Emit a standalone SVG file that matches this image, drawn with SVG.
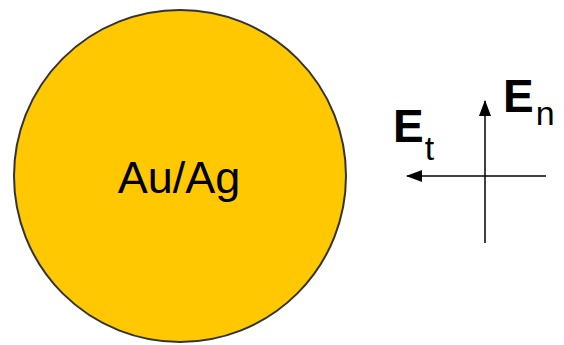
<svg xmlns="http://www.w3.org/2000/svg" width="564" height="345" viewBox="0 0 564 345">
<style>
.lbl{font-family:"Liberation Sans",Arial,sans-serif;fill:#000}
.big{font-size:46px;font-weight:bold}
.sub{font-size:34px}
.ax{stroke:#000;stroke-width:1.5;fill:none}
</style>
<defs>
<marker id="ah" viewBox="0 0 16 12" refX="15" refY="6" markerWidth="16" markerHeight="12" markerUnits="userSpaceOnUse" orient="auto">
<path d="M0,0 L16,6 L0,12 Z" fill="#000"/>
</marker>
</defs>
<g id="particle">
<circle cx="180" cy="176" r="166" fill="#ffc800" stroke="#333" stroke-width="2"/>
<text class="lbl" x="179" y="193" font-size="45" text-anchor="middle">Au/Ag</text>
</g>
<g id="connectors">
<line class="ax" x1="485" y1="243" x2="485" y2="101" marker-end="url(#ah)"/>
<line class="ax" x1="546" y1="176" x2="407" y2="176" marker-end="url(#ah)"/>
</g>
<g id="En">
<text class="lbl" x="503" y="112"><tspan class="big">E</tspan><tspan class="sub" dx="2" dy="13">n</tspan></text>
</g>
<g id="Et">
<text class="lbl" x="393" y="142"><tspan class="big">E</tspan><tspan class="sub" dx="1" dy="18">t</tspan></text>
</g>
</svg>
